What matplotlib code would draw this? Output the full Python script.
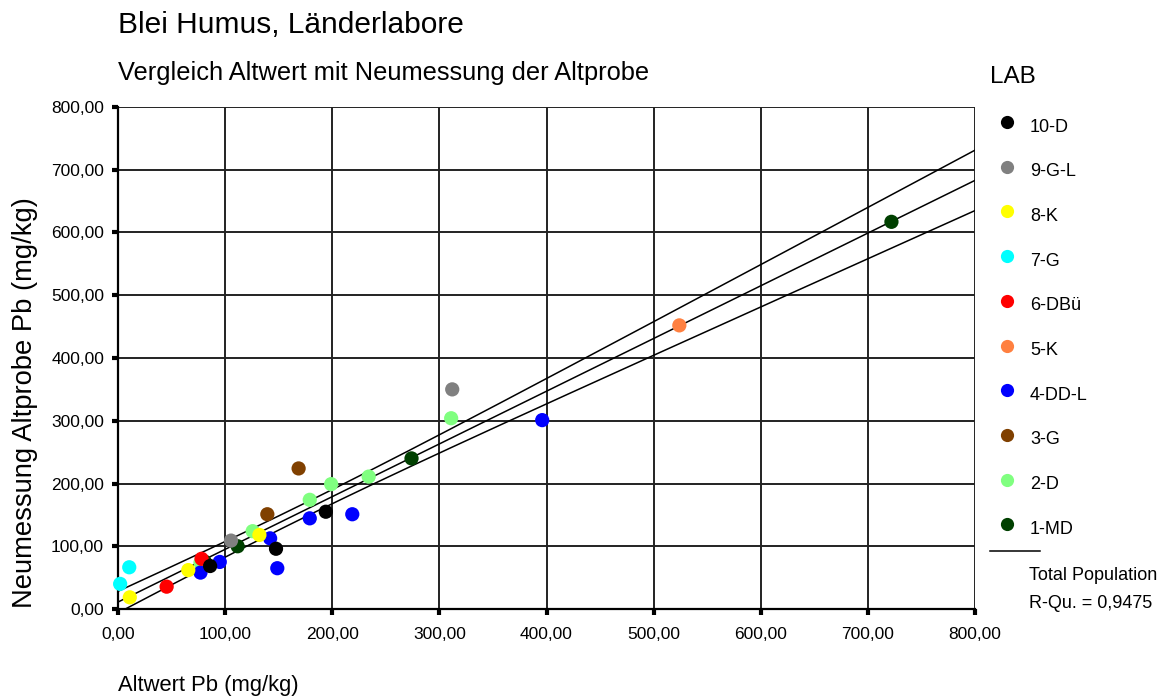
import numpy as np
import matplotlib
matplotlib.use("Agg")
import matplotlib.pyplot as plt
from matplotlib.lines import Line2D
from matplotlib.ticker import FuncFormatter

plt.rcParams['font.family'] = ['Liberation Sans', 'DejaVu Sans']

# ---- data ----
labs = ["10-D", "9-G-L", "8-K", "7-G", "6-DBü", "5-K", "4-DD-L", "3-G", "2-D", "1-MD"]
colors = ["#000000", "#808080", "#FFFF00", "#00FFFF", "#FF0000", "#FF8040",
          "#0000FF", "#804000", "#80FF80", "#004000"]
x_10D = [86, 147.5, 194]
y_10D = [68.5, 96, 155]
x_9GL = [105.5, 312]
y_9GL = [109, 350]
x_8K = [11, 65.6, 132]
y_8K = [18.6, 62, 118]
x_7G = [2, 10.5]
y_7G = [40, 66.5]
x_6DBu = [45.4, 78]
y_6DBu = [35.6, 80]
x_5K = [524]
y_5K = [452]
x_4DDL = [77, 95, 142, 148.7, 179, 218.7, 396]
y_4DDL = [58, 75, 112.6, 65, 144.5, 151, 301]
x_3G = [139.4, 168.6]
y_3G = [151, 224]
x_2D = [77, 125.7, 179, 199, 234, 311]
y_2D = [74, 124, 174, 199, 211, 304]
x_1MD = [81, 111.7, 274, 722]
y_1MD = [75.4, 100, 240, 617]

xs = [x_10D, x_9GL, x_8K, x_7G, x_6DBu, x_5K, x_4DDL, x_3G, x_2D, x_1MD]
ys = [y_10D, y_9GL, y_8K, y_7G, y_6DBu, y_5K, y_4DDL, y_3G, y_2D, y_1MD]

tick_vals = [0, 100, 200, 300, 400, 500, 600, 700, 800]
r2_text = "R-Qu. = 0,9475"
t_crit = 2.04  # 95% two-sided, df ~ 30

fig = plt.figure(figsize=(11.67, 7.0), dpi=100)
ax = fig.add_axes([118/1167, 1-609/700, (975-118)/1167, (609-107)/700])

# scatter, drawn in reverse label order so 10-D is on top
for xv, yv, c in reversed(list(zip(xs, ys, colors))):
    ax.scatter(xv, yv, s=105, color=c, edgecolors='none', zorder=3, clip_on=False)

# regression with 95% confidence band of the mean
X = np.concatenate([np.asarray(v, float) for v in xs])
Y = np.concatenate([np.asarray(v, float) for v in ys])
n = len(X)
b, a = np.polyfit(X, Y, 1)
res = Y - (a + b * X)
s = np.sqrt(np.sum(res**2) / (n - 2))
xbar = X.mean()
sxx = np.sum((X - xbar)**2)
xx = np.linspace(0, 800, 400)
yy = a + b * xx
half = t_crit * s * np.sqrt(1/n + (xx - xbar)**2 / sxx)
for line in (yy, yy + half, yy - half):
    ax.plot(xx, line, color='black', lw=1.1, zorder=2)

ax.set_xlim(0, 800)
ax.set_ylim(0, 800)
ax.set_xticks(tick_vals)
ax.set_yticks(tick_vals)
fmt = FuncFormatter(lambda v, p: f"{v:.2f}".replace('.', ','))
ax.xaxis.set_major_formatter(fmt)
ax.yaxis.set_major_formatter(fmt)
ax.grid(True, color='#222222', lw=1.4, zorder=1)
ax.set_axisbelow(True)
for sp in ['top', 'right']:
    ax.spines[sp].set_visible(False)
ax.spines['left'].set_linewidth(1.6)
ax.spines['bottom'].set_linewidth(1.6)
ax.tick_params(axis='both', labelsize=12.5, length=4, width=3, direction='out', pad=6)
ax.tick_params(axis='x', pad=9)

fig.text(118/1167, 1-33/700, "Blei Humus, Länderlabore", fontsize=21.5, va='baseline', ha='left')
fig.text(118/1167, 1-80/700, "Vergleich Altwert mit Neumessung der Altprobe", fontsize=18.3, va='baseline', ha='left')
fig.text(25/1167, 1-403/700, "Neumessung Altprobe Pb (mg/kg)", fontsize=19.7, rotation=90, va='center', ha='center')
fig.text(118/1167, 1-686/700, "Altwert Pb (mg/kg)", fontsize=15.8, va='center', ha='left')

# legend drawn manually
fig.text(990/1167, 1-77/700, "LAB", fontsize=17.5, va='center', ha='left')
y0 = 127
dy = 44.7
for i, (lab, c) in enumerate(zip(labs, colors)):
    yp = 1 - (y0 + i*dy)/700
    ym = 1 - (y0 - 5 + i*dy)/700
    fig.add_artist(Line2D([1007/1167], [ym], marker='o', markersize=9.5, color=c,
                          markeredgecolor='none', linestyle='none'))
    fig.text(1030/1167, yp, lab, fontsize=13, va='center', ha='left')
fig.add_artist(Line2D([990/1167, 1040/1167], [1-551/700, 1-551/700], color='black', lw=1.1))
fig.text(1029/1167, 1-575/700, "Total Population", fontsize=13, va='center', ha='left')
fig.text(1029/1167, 1-603/700, r2_text, fontsize=13, va='center', ha='left')

fig.savefig("out.png", dpi=100)
